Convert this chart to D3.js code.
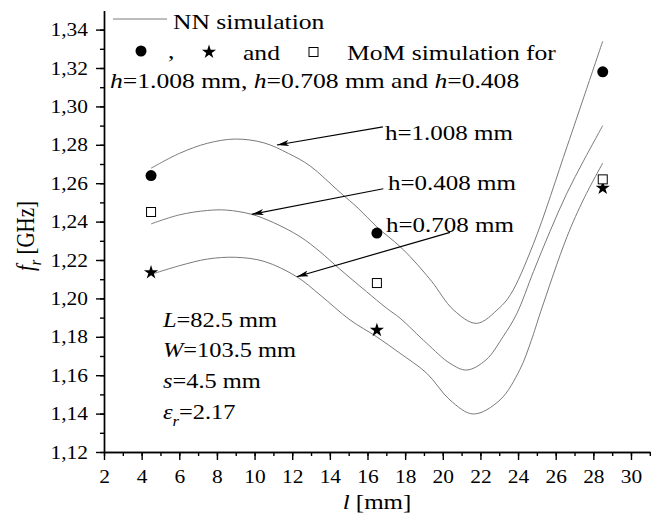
<!DOCTYPE html>
<html>
<head>
<meta charset="utf-8">
<script src="https://cdn.jsdelivr.net/npm/d3@7"></script>
<style>
  body { margin: 0; background: #fff; }
  svg { display: block; font-family: "Liberation Serif", "Times New Roman", serif; }
  .axis path, .axis line { stroke: #000; stroke-width: 1.4px; }
  .axis text { font-family: "Liberation Serif", serif; fill: #000; }
</style>
</head>
<body>
<svg id="chart" width="659" height="520"></svg>
<script>
// MoM simulation points (l in mm, fr in GHz)
var momL = [4.5, 16.5, 28.5];
var momH1008 = [1.264, 1.234, 1.318];
var momH0708 = [1.214, 1.184, 1.258];
var momH0408 = [1.245, 1.208, 1.262];

// NN simulation curves as [l, fr]
var nnH1008 = [
  [4.5, 1.2678], [6, 1.2755], [7.5, 1.2808], [9, 1.2830], [10.5, 1.2810],
  [11.8, 1.2755], [12.95, 1.2690], [14.54, 1.2552], [15.5, 1.2470],
  [16.49, 1.2373], [17.73, 1.2270], [18.43, 1.2200], [19.4, 1.2090],
  [20.57, 1.1940], [21.8, 1.1870], [23, 1.1950], [23.6, 1.2020],
  [24.8, 1.2280], [26.6, 1.2790], [27.5, 1.3050], [28.5, 1.3340]
];
var nnH0408 = [
  [4.5, 1.2388], [6, 1.2435], [7.5, 1.2458], [8.5, 1.2460], [9.84, 1.2438],
  [11, 1.2395], [12.41, 1.2322], [13.48, 1.2243], [14.5, 1.2155],
  [15.95, 1.2035], [17, 1.1950], [17.73, 1.1897], [19.15, 1.1766],
  [20.38, 1.1662], [21.27, 1.1627], [22.3, 1.1680], [23.2, 1.1800],
  [23.93, 1.1920], [24.82, 1.2140], [25.7, 1.2350], [26.59, 1.2547],
  [27.5, 1.2720], [28.5, 1.2900]
];
var nnH0708 = [
  [4.5, 1.2125], [6, 1.2170], [7.5, 1.2205], [9, 1.2214], [10.5, 1.2193],
  [12.24, 1.2113], [13.48, 1.2018], [15.07, 1.1888], [16.49, 1.1800],
  [17.73, 1.1714], [19.15, 1.1610], [20.38, 1.1471], [21.62, 1.1398],
  [23.04, 1.1471], [24.1, 1.1630], [24.7, 1.1780], [25.2, 1.1930],
  [26.6, 1.2321], [27.5, 1.2520], [28.5, 1.2705]
];

var xTicks = [2, 4, 6, 8, 10, 12, 14, 16, 18, 20, 22, 24, 26, 28, 30];
var yTicks = [1.12, 1.14, 1.16, 1.18, 1.20, 1.22, 1.24, 1.26, 1.28, 1.30, 1.32, 1.34];

// arrows: label, tail [l, fr], tip [l, fr]
var arrowLabels = ['h=1.008 mm', 'h=0.408 mm', 'h=0.708 mm'];
var arrowLabelPos = [[16.93, 1.2825], [17.09, 1.2565], [16.98, 1.2346]];
var arrowTails = [[16.82, 1.2893], [16.84, 1.2571], [20.39, 1.2344]];
var arrowTips = [[11.19, 1.2799], [9.85, 1.2438], [12.24, 1.2113]];

var SX = 1.19; // the reference type is a bit wide

var svg = d3.select('#chart');
var x = d3.scaleLinear().domain([2, 31]).range([104, 649.8]);
var y = d3.scaleLinear().domain([1.12, 1.35]).range([452, 10.4]);

function place(sel, px, py) {
  return sel.attr('transform', 'translate(' + px + ',' + py + ') scale(' + SX + ',1)');
}

// minor ticks
svg.append('g').attr('class', 'axis')
  .attr('transform', 'translate(0,452)')
  .call(d3.axisBottom(x).tickValues(d3.range(2, 32, 1)).tickSize(4).tickSizeOuter(0).tickFormat(''));
svg.append('g').attr('class', 'axis')
  .attr('transform', 'translate(104,0)')
  .call(d3.axisLeft(y).tickValues(d3.range(0, 23).map(function(i) { return 1.12 + i * 0.01; }))
    .tickSize(4).tickSizeOuter(0).tickFormat(''));

// major ticks
var xAxis = svg.append('g').attr('class', 'axis')
  .attr('transform', 'translate(0,452)')
  .call(d3.axisBottom(x).tickValues(xTicks).tickSize(8).tickSizeOuter(0).tickPadding(5));
xAxis.selectAll('text')
  .style('font-size', '18px')
  .attr('y', null).attr('dy', null)
  .each(function() { place(d3.select(this), 0, 31); });

var yAxis = svg.append('g').attr('class', 'axis')
  .attr('transform', 'translate(104,0)')
  .call(d3.axisLeft(y).tickValues(yTicks).tickSize(8).tickSizeOuter(0)
    .tickFormat(function(d) { return d3.format('.2f')(d).replace('.', ','); }));
yAxis.selectAll('text')
  .style('font-size', '18px')
  .attr('x', null).attr('dy', '0.34em')
  .each(function() { place(d3.select(this), -16, 0); });

// NN curves
var line = d3.line()
  .x(function(d) { return x(d[0]); })
  .y(function(d) { return y(d[1]); })
  .curve(d3.curveCatmullRom.alpha(0.5));

svg.append('g').selectAll('path')
  .data([nnH1008, nnH0408, nnH0708])
  .enter().append('path')
  .attr('d', line)
  .attr('fill', 'none')
  .attr('stroke', '#7a7a7a')
  .attr('stroke-width', 1);

// MoM markers
var star = d3.symbol().type(d3.symbolStar).size(62);
var marks = svg.append('g');
marks.selectAll('circle').data(momL).enter().append('circle')
  .attr('cx', function(d) { return x(d); })
  .attr('cy', function(d, i) { return y(momH1008[i]); })
  .attr('r', 5.5).attr('fill', '#000');
marks.selectAll('.star').data(momL).enter().append('path')
  .attr('class', 'star')
  .attr('d', star)
  .attr('transform', function(d, i) { return 'translate(' + x(d) + ',' + (y(momH0708[i]) + 1) + ')'; })
  .attr('fill', '#000');
marks.selectAll('rect').data(momL).enter().append('rect')
  .attr('x', function(d) { return x(d) - 4.5; })
  .attr('y', function(d, i) { return y(momH0408[i]) - 4.5; })
  .attr('width', 9).attr('height', 9)
  .attr('fill', '#fff').attr('stroke', '#000').attr('stroke-width', 1);

// arrows
svg.append('defs').append('marker')
  .attr('id', 'head')
  .attr('viewBox', '0 0 12 6')
  .attr('refX', 12).attr('refY', 3)
  .attr('markerWidth', 12).attr('markerHeight', 6)
  .attr('markerUnits', 'userSpaceOnUse')
  .attr('orient', 'auto')
  .append('path').attr('d', 'M0,0 L12,3 L0,6 L3,3 Z').attr('fill', '#000');

arrowTails.forEach(function(t, i) {
  svg.append('line')
    .attr('x1', x(t[0])).attr('y1', y(t[1]))
    .attr('x2', x(arrowTips[i][0])).attr('y2', y(arrowTips[i][1]))
    .attr('stroke', '#000').attr('stroke-width', 1.2)
    .attr('marker-end', 'url(#head)');
  place(svg.append('text'), x(arrowLabelPos[i][0]), y(arrowLabelPos[i][1]))
    .style('font-size', '21px')
    .text(arrowLabels[i]);
});

// legend
svg.append('line')
  .attr('x1', 113).attr('x2', 167).attr('y1', 19).attr('y2', 19)
  .attr('stroke', '#7a7a7a').attr('stroke-width', 1);
place(svg.append('text'), 173, 29).style('font-size', '21.5px').text('NN simulation');

svg.append('circle').attr('cx', 141).attr('cy', 51).attr('r', 5.5).attr('fill', '#000');
place(svg.append('text'), 168, 58).style('font-size', '21.5px').text(',');
svg.append('path').attr('d', star).attr('transform', 'translate(209,52)').attr('fill', '#000');
place(svg.append('text'), 243, 60).style('font-size', '21.5px').text('and');
svg.append('rect').attr('x', 309).attr('y', 47.5).attr('width', 9).attr('height', 9)
  .attr('fill', '#fff').attr('stroke', '#000').attr('stroke-width', 1);
place(svg.append('text'), 347, 60).style('font-size', '21.5px').text('MoM simulation for');

var leg3 = place(svg.append('text'), 110, 88).style('font-size', '21.5px');
[['h', true], ['=1.008 mm, ', false], ['h', true], ['=0.708 mm and ', false], ['h', true], ['=0.408', false]]
  .forEach(function(p) {
    leg3.append('tspan').attr('font-style', p[1] ? 'italic' : null).text(p[0]);
  });

// parameters
var params = [
  [['L', true], ['=82.5 mm', false]],
  [['W', true], ['=103.5 mm', false]],
  [['s', true], ['=4.5 mm', false]]
];
var paramBase = [327, 357, 388];
params.forEach(function(parts, i) {
  var t = place(svg.append('text'), 163, paramBase[i]).style('font-size', '20.5px');
  parts.forEach(function(p) {
    t.append('tspan').attr('font-style', p[1] ? 'italic' : null).text(p[0]);
  });
});
var eps = place(svg.append('text'), 163, 419).style('font-size', '20.5px');
eps.append('tspan').attr('font-style', 'italic').text('ε');
eps.append('tspan').attr('font-style', 'italic').attr('font-size', '14px').attr('dy', 7).text('r');
eps.append('tspan').attr('dy', -7).text('=2.17');

// axis titles
var xt = place(svg.append('text'), 377, 509).style('font-size', '21px').attr('text-anchor', 'middle');
xt.append('tspan').attr('font-style', 'italic').text('l');
xt.append('tspan').text(' [mm]');

var yt = svg.append('text')
  .attr('transform', 'translate(34,236) scale(' + SX + ',1) rotate(-90)')
  .attr('text-anchor', 'middle')
  .style('font-size', '21px');
yt.append('tspan').attr('font-style', 'italic').text('f');
yt.append('tspan').attr('font-style', 'italic').attr('font-size', '14px').attr('dy', 6).text('r');
yt.append('tspan').attr('dy', -6).text(' [GHz]');
</script>
</body>
</html>
